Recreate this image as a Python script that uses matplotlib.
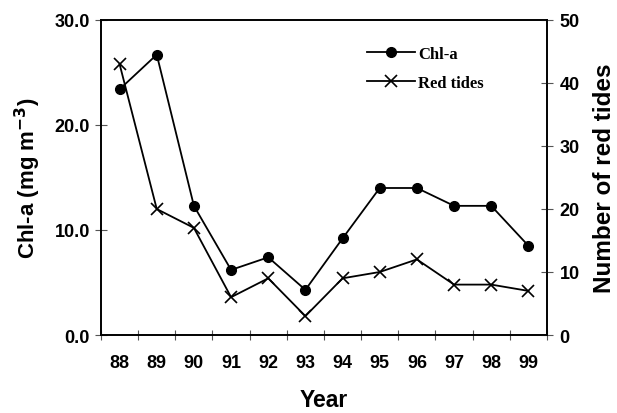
import matplotlib
matplotlib.use("Agg")
import matplotlib.pyplot as plt
from matplotlib.lines import Line2D
import numpy as np

years = ["88", "89", "90", "91", "92", "93", "94", "95", "96", "97", "98", "99"]
chla = [23.4, 26.7, 12.3, 6.2, 7.4, 4.3, 9.2, 14.0, 14.0, 12.3, 12.3, 8.5]
red_tides = [43, 20, 17, 6, 9, 3, 9, 10, 12, 8, 8, 7]
left_ticks = [0, 10, 20, 30]
left_labels = ["0.0", "10.0", "20.0", "30.0"]
right_ticks = [0, 10, 20, 30, 40, 50]

plt.rcParams['font.family'] = ['Liberation Sans', 'DejaVu Sans']
fig = plt.figure(figsize=(6.17, 4.14), dpi=100)
ax = fig.add_axes([0.1637, 0.1884, 0.8865 - 0.1637, 0.9493 - 0.1884])
ax2 = ax.twinx()

x = np.arange(len(years))
ax.plot(x, chla, color='black', lw=1.3, marker='o', markersize=7, zorder=3)
ax2.plot(x, red_tides, color='black', lw=1.3, marker='x', markersize=8, mew=1.2, zorder=3)

ax.set_xlim(-0.5, len(years) - 0.5)
ax.set_ylim(0, 30)
ax2.set_ylim(0, 50)

ax.set_xticks(np.arange(len(years) + 1) - 0.5)
ax.set_xticklabels([])
ax.set_xticks(x, minor=True)
ax.set_xticklabels(years, minor=True, fontsize=13, fontweight='bold')
ax.tick_params(axis='x', which='major', direction='inout', length=7, width=0.8, color='#555555')
ax.tick_params(axis='x', which='minor', length=0, pad=14)

ax.set_yticks(left_ticks)
ax.set_yticklabels(left_labels, fontsize=13, fontweight='bold')
ax.tick_params(axis='y', direction='inout', length=8, width=0.8, color='#555555', pad=4)

ax2.set_yticks(right_ticks)
ax2.set_yticklabels([str(t) for t in right_ticks], fontsize=13, fontweight='bold')
ax2.tick_params(axis='y', direction='inout', length=8, width=0.8, color='#555555', pad=5)

for a in (ax, ax2):
    for s in a.spines.values():
        s.set_linewidth(1.2)

ax.set_xlabel("Year", fontsize=16.5, fontweight='bold', labelpad=12)
ax.set_ylabel("Chl-a (mg m$^{\\mathbf{-3}}$)", fontsize=16, fontweight='bold', labelpad=8)
ax2.set_ylabel("Number of red tides", fontsize=17.5, fontweight='bold', labelpad=10)

handles = [Line2D([], [], color='black', lw=1.3, marker='o', markersize=7),
           Line2D([], [], color='black', lw=1.3, marker='x', markersize=8, mew=1.2)]
leg = fig.legend(handles, ["Chl-a", "Red tides"], loc='upper left',
                 bbox_to_anchor=(367 / 617, 1 - 47 / 414), frameon=False,
                 handlelength=2.9, handletextpad=0.15, labelspacing=0.75,
                 borderpad=0, borderaxespad=0,
                 prop={'family': 'Liberation Serif', 'weight': 'bold', 'size': 12})

fig.savefig("out.png", dpi=100)
